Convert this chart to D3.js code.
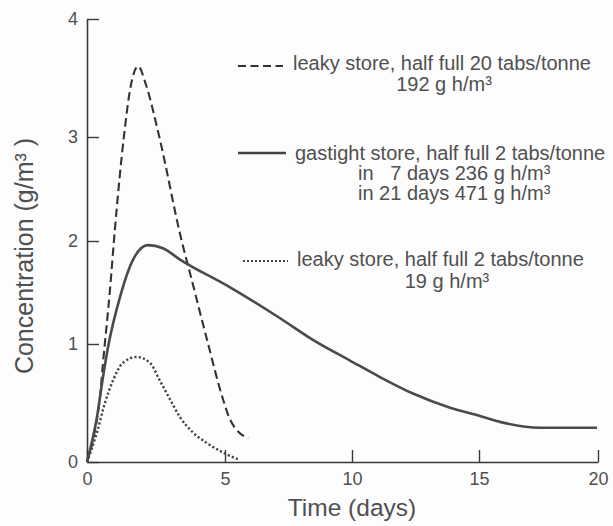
<!DOCTYPE html>
<html>
<head>
<meta charset="utf-8">
<script src="https://cdn.jsdelivr.net/npm/d3@7"></script>
<style>
  html, body { margin: 0; padding: 0; background: #fdfdfd; }
  svg { display: block; font-family: "Liberation Sans", Arial, Helvetica, sans-serif; }
  text { fill: #505050; }
</style>
</head>
<body>
<svg id="chart" width="613" height="526"></svg>
<script>
// Phosphine concentration after fumigation, three store / dosage scenarios
const xTicks = [0, 5, 10, 15, 20];
const yTicks = [0, 1, 2, 3, 4];

// leaky store, half full, 20 tablets per tonne
const leaky20Days = [0, 0.29, 0.47, 0.58, 0.83, 1.01, 1.34, 1.56, 1.85, 2.14, 2.61, 3.44, 3.73, 4.35, 4.93, 5.2, 5.91];
const leaky20Conc = [0, 0.27, 0.55, 0.84, 1.52, 2.11, 3.01, 3.40, 3.60, 3.44, 3.01, 1.99, 1.69, 1.04, 0.53, 0.36, 0.20];

// gastight store, half full, 2 tablets per tonne
const gastightDays = [0, 0.36, 0.58, 0.76, 1.2, 1.67, 2.21, 2.75, 3.37, 5.2, 7.17, 8.46, 9.92, 11.1, 12.4, 13.86, 15.04, 15.88, 17.56, 18.4, 19.96];
const gastightConc = [0, 0.38, 0.72, 0.97, 1.46, 1.82, 1.96, 1.93, 1.82, 1.55, 1.25, 1.04, 0.86, 0.72, 0.58, 0.46, 0.39, 0.34, 0.29, 0.29, 0.29];

// leaky store, half full, 2 tablets per tonne
const leaky2Days = [0, 0.36, 0.65, 0.94, 1.3, 1.81, 2.28, 2.64, 3.01, 3.37, 3.84, 4.35, 4.93, 5.54];
const leaky2Conc = [0, 0.25, 0.50, 0.69, 0.84, 0.89, 0.84, 0.69, 0.53, 0.38, 0.25, 0.16, 0.08, 0.02];

const svg = d3.select("#chart");

// hand-ruled axes: tick spacing is slightly uneven
const x = d3.scaleLinear().domain(xTicks).range([87, 225, 352, 479, 598]);
const y = d3.scaleLinear().domain(yTicks).range([462, 344, 241, 137, 19]);

const axisColor = "#3a3a3a";

const xAxis = svg.append("g")
  .attr("transform", `translate(0,${y(0)})`)
  .call(d3.axisBottom(x).tickValues(xTicks).tickFormat(d3.format("d"))
    .tickSizeInner(-12).tickSizeOuter(0).tickPadding(10));
const yAxis = svg.append("g")
  .attr("transform", `translate(${x(0)},0)`)
  .call(d3.axisLeft(y).tickValues(yTicks).tickFormat(d3.format("d"))
    .tickSizeInner(-12).tickSizeOuter(0).tickPadding(9));

[xAxis, yAxis].forEach(g => {
  g.select(".domain").attr("stroke", axisColor).attr("stroke-width", 1.6);
  g.selectAll(".tick line").attr("stroke", axisColor).attr("stroke-width", 1.4);
  g.selectAll(".tick text")
    .attr("fill", "#505050")
    .style("font-size", "18px")
    .style("font-family", '"Liberation Sans", Arial, sans-serif');
});

// axis titles
svg.append("text")
  .attr("x", 352).attr("y", 516)
  .attr("text-anchor", "middle")
  .style("font-size", "24.5px")
  .text("Time (days)");

svg.append("text")
  .attr("transform", "translate(33,256) rotate(-90)")
  .attr("text-anchor", "middle")
  .attr("xml:space", "preserve")
  .style("font-size", "25px")
  .text("Concentration (g/m³ )");

// curves
const line = d3.line().x(d => x(d[0])).y(d => y(d[1])).curve(d3.curveMonotoneX);
const zip = (a, b) => a.map((v, i) => [v, b[i]]);

const series = [
  { days: leaky20Days, conc: leaky20Conc, dash: "8.5,4.5", width: 2.1, color: "#333" },
  { days: gastightDays, conc: gastightConc, dash: null, width: 2.6, color: "#4a4a4a" },
  { days: leaky2Days, conc: leaky2Conc, dash: "2.2,2.2", width: 2.4, color: "#444" }
];

series.forEach(s => {
  svg.append("path")
    .datum(zip(s.days, s.conc))
    .attr("fill", "none")
    .attr("stroke", s.color)
    .attr("stroke-width", s.width)
    .attr("stroke-dasharray", s.dash)
    .attr("stroke-linejoin", "round")
    .attr("d", line);
});

// legend
const legend = [
  { dash: "8,4.5", width: 2, color: "#333", x1: 238, x2: 283, ly: 66,
    lines: [{ x: 293, y: 70, anchor: "start", text: "leaky store, half full 20 tabs/tonne" },
            { x: 444, y: 91, anchor: "middle", text: "192 g h/m³" }] },
  { dash: null, width: 2.4, color: "#444", x1: 238, x2: 286, ly: 153,
    lines: [{ x: 295, y: 160, anchor: "start", text: "gastight store, half full 2 tabs/tonne" },
            { x: 358, y: 180, anchor: "start", text: "in   7 days 236 g h/m³" },
            { x: 358, y: 200, anchor: "start", text: "in 21 days 471 g h/m³" }] },
  { dash: "2,2", width: 2, color: "#444", x1: 243, x2: 288, ly: 261,
    lines: [{ x: 297, y: 266, anchor: "start", text: "leaky store, half full 2 tabs/tonne" },
            { x: 447, y: 288, anchor: "middle", text: "19 g h/m³" }] }
];

legend.forEach(item => {
  svg.append("line")
    .attr("x1", item.x1).attr("x2", item.x2)
    .attr("y1", item.ly).attr("y2", item.ly)
    .attr("stroke", item.color)
    .attr("stroke-width", item.width)
    .attr("stroke-dasharray", item.dash);
  item.lines.forEach(l => {
    svg.append("text")
      .attr("x", l.x).attr("y", l.y)
      .attr("text-anchor", l.anchor)
      .attr("xml:space", "preserve")
      .style("white-space", "pre")
      .style("font-size", "20px")
      .text(l.text);
  });
});
</script>
</body>
</html>
